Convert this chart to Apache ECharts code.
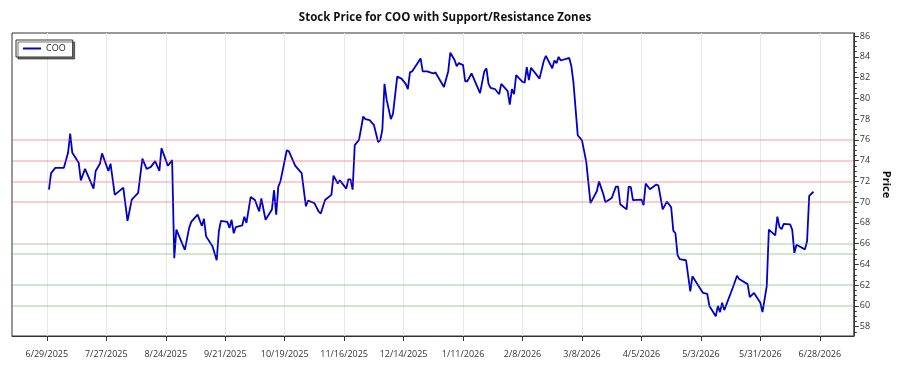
<!DOCTYPE html>
<html>
<head>
<meta charset="utf-8">
<script src="https://cdn.jsdelivr.net/npm/echarts@6/dist/echarts.min.js"></script>
<style>
html, body { margin: 0; padding: 0; background: #fff; }
#chart { width: 900px; height: 375px; }
</style>
</head>
<body>
<div id="chart"></div>
<script>
// x values are days counted from 6/29/2025
var days = [1,2,4,8,10,11,12,15,16,18,22,23,25,26,29,30,32,36,38,40,43,45,47,49,51,53,54,57,59,60,
    61,65,67,68,71,73,74,75,78,80,81,82,85,86,87,88,89,92,93,94,96,98,100,101,103,106,107,108,109,110,
    113,114,117,120,122,123,126,128,129,131,134,135,137,138,141,142,143,144,145,147,149,150,152,154,156,157,158,159,160,162,
    163,165,167,169,170,171,172,176,177,179,182,183,187,189,190,192,193,194,196,197,198,200,204,206,207,208,209,211,213,214,
    217,218,219,220,221,224,225,226,227,228,232,234,235,238,239,240,241,242,246,247,248,250,252,254,256,259,260,262,263,266,
    268,269,270,273,274,275,276,280,281,282,284,287,288,290,292,294,295,296,297,298,301,303,304,306,309,311,312,315,316,317,
    318,319,323,325,326,330,331,333,336,337,339,340,343,344,345,346,347,350,351,352,353,357,358,359,361];
var prices = [71.2,72.8,73.3,73.3,74.75,76.6,74.75,73.8,72.1,73.2,71.3,73.0,73.7,74.7,73.0,73.7,70.7,71.4,68.2,70.25,70.9,74.2,73.2,73.4,73.95,73.0,75.2,73.5,74.05,64.6,
    67.35,65.4,67.5,68.1,68.8,67.7,68.4,66.7,65.75,64.4,67.2,68.2,68.1,67.5,68.3,67.0,67.6,67.75,68.6,68.0,70.5,70.2,69.1,70.35,68.3,69.3,71.15,68.8,71.5,72.0,
    75.0,74.9,73.5,72.8,69.6,70.15,69.9,69.1,68.9,70.2,70.7,72.55,71.8,72.1,71.3,72.2,72.2,71.2,75.5,76.0,78.25,78.0,77.9,77.45,75.8,75.95,77.0,81.4,79.9,78.0,
    78.5,82.1,81.9,81.4,80.9,82.5,82.6,83.85,82.6,82.6,82.4,82.5,81.1,82.6,84.4,83.7,83.1,83.4,83.2,81.65,81.65,82.4,80.5,82.6,82.9,81.4,81.0,80.9,80.4,81.4,
    80.7,79.4,80.9,80.4,82.25,81.6,81.5,83.0,81.75,82.95,81.9,83.6,84.1,82.9,83.65,83.4,84.0,83.65,83.9,83.1,81.5,76.45,75.95,73.9,69.9,71.05,72.0,70.8,70.0,70.4,
    71.5,71.5,69.8,69.3,71.5,71.45,70.2,70.25,69.7,71.8,71.25,71.7,71.6,69.3,70.05,69.5,67.25,67.0,64.9,64.5,64.4,61.4,62.85,62.2,61.25,61.15,60.0,59.0,60.0,59.4,
    60.3,59.6,61.75,62.9,62.6,62.1,60.85,61.25,60.3,59.4,61.9,67.35,66.8,68.6,67.6,67.4,67.9,67.85,67.35,65.1,65.9,65.45,66.25,70.6,71.0];

var tickDays = [0,28,56,84,112,140,168,196,224,252,280,308,336,364];
var tickLabels = ['6/29/2025','7/27/2025','8/24/2025','9/21/2025','10/19/2025','11/16/2025','12/14/2025',
    '1/11/2026','2/8/2026','3/8/2026','4/5/2026','5/3/2026','5/31/2026','6/28/2026'];
var yTicks = [58,60,62,64,66,68,70,72,74,76,78,80,82,84,86];

var resistance = [70,72,74,76];
var support = [60,62,65,66];

var seriesData = [];
for (var i = 0; i < days.length; i++) {
    seriesData.push([days[i], prices[i]]);
}

var zoneLines = [];
for (var r = 0; r < resistance.length; r++) {
    zoneLines.push({ yAxis: resistance[r], lineStyle: { color: 'rgba(240,80,80,0.38)', width: 1.5, type: 'solid' } });
}
for (var s = 0; s < support.length; s++) {
    zoneLines.push({ yAxis: support[s], lineStyle: { color: 'rgba(60,160,60,0.33)', width: 1.5, type: 'solid' } });
}

var font = '"Open Sans", "Noto Sans", sans-serif';

var myChart = echarts.init(document.getElementById('chart'));
var option = {
    animation: false,
    backgroundColor: '#fff',
    textStyle: { fontFamily: font },
    title: {
        text: 'Stock Price for COO with Support/Resistance Zones',
        left: 440,
        textAlign: 'center',
        top: 7,
        textStyle: { fontSize: 11.5, fontWeight: 'bold', color: '#111', fontFamily: font }
    },
    legend: {
        left: 16,
        top: 40,
        orient: 'vertical',
        padding: [4, 7, 4, 7],
        itemWidth: 18,
        itemHeight: 2,
        icon: 'rect',
        backgroundColor: '#fff',
        borderColor: '#333',
        borderWidth: 1,
        borderRadius: 0,
        shadowColor: 'rgba(0,0,0,0.55)',
        shadowOffsetX: 2,
        shadowOffsetY: 2,
        shadowBlur: 0,
        textStyle: { fontSize: 9, color: '#222', fontFamily: font },
        data: ['COO']
    },
    grid: {
        left: 12,
        right: 34,
        top: 33,
        bottom: 39,
        show: true,
        borderColor: '#333',
        borderWidth: 1,
        containLabel: false
    },
    xAxis: {
        type: 'value',
        min: -16.4,
        max: 380,
        splitNumber: 14,
        minInterval: 28,
        maxInterval: 28,
        axisLine: { show: true, onZero: false, lineStyle: { color: '#333' } },
        axisTick: { show: true, customValues: tickDays, length: 5, lineStyle: { color: '#333' } },
        axisLabel: {
            customValues: tickDays,
            margin: 14,
            fontSize: 9,
            color: '#333',
            formatter: function (v) {
                var k = Math.round(v / 28);
                return tickLabels[k] || '';
            }
        },
        splitLine: { show: true, lineStyle: { color: '#e8e8e8', width: 1 } }
    },
    yAxis: {
        type: 'value',
        position: 'right',
        min: 57.1,
        max: 86.3,
        splitNumber: 15,
        minInterval: 2,
        maxInterval: 2,
        name: 'Price',
        nameLocation: 'middle',
        nameRotate: -90,
        nameGap: 22,
        nameTextStyle: { fontSize: 11, fontWeight: 'bold', color: '#111' },
        axisLine: { show: true, onZero: false, lineStyle: { color: '#333' } },
        axisTick: { show: true, customValues: yTicks, length: 5, lineStyle: { color: '#333' } },
        minorTick: { show: true, splitNumber: 4, length: 3, lineStyle: { color: '#333' } },
        axisLabel: { customValues: yTicks, margin: 6, fontSize: 9, color: '#333' },
        splitLine: { show: false }
    },
    series: [{
        name: 'COO',
        type: 'line',
        data: seriesData,
        showSymbol: false,
        symbol: 'none',
        color: '#0000cd',
        lineStyle: { color: '#0000cd', width: 1.8 },
        markLine: {
            silent: true,
            symbol: 'none',
            label: { show: false },
            data: zoneLines
        },
        z: 3
    }]
};
myChart.setOption(option);
</script>
</body>
</html>
